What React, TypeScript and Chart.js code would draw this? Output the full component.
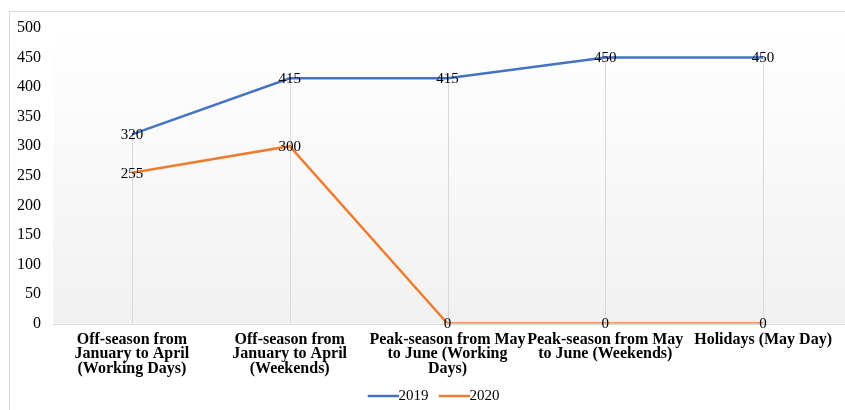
import React, { useEffect, useRef } from "react";
import { Chart, registerables } from "chart.js";

Chart.register(...registerables);

const categories: string[][] = [
  ["Off-season from", "January to April", "(Working Days)"],
  ["Off-season from", "January to April", "(Weekends)"],
  ["Peak-season from May", "to June (Working", "Days)"],
  ["Peak-season from May", "to June (Weekends)"],
  ["Holidays (May Day)"],
];
const series2019: number[] = [320, 415, 415, 450, 450];
const series2020: number[] = [255, 300, 0, 0, 0];
const yTicks: number[] = [0, 50, 100, 150, 200, 250, 300, 350, 400, 450, 500];

const SERIF = "'Liberation Serif', 'Times New Roman', serif";
const COLORS = ["#4472C4", "#ED7D31"];

const LEGEND_BOX = 31.5;
function legendImage(color: string): HTMLCanvasElement {
  const c = document.createElement("canvas");
  const w = Math.round(LEGEND_BOX + 15);
  c.width = w;
  c.height = 4;
  const g = c.getContext("2d")!;
  g.strokeStyle = color;
  g.lineWidth = 2.5;
  g.beginPath();
  g.moveTo(w - 31, 2);
  g.lineTo(w, 2);
  g.stroke();
  return c;
}

const bgPlugin = {
  id: "bgGradient",
  beforeDraw(chart: any) {
    const { ctx, chartArea } = chart;
    if (!chartArea) return;
    const g = ctx.createLinearGradient(0, chartArea.top, 0, chartArea.bottom);
    g.addColorStop(0, "#ffffff");
    g.addColorStop(1, "#f1f1f1");
    ctx.save();
    ctx.fillStyle = g;
    ctx.fillRect(chartArea.left, chartArea.top - 12, chartArea.right - chartArea.left + 3, chartArea.bottom - chartArea.top + 12);
    ctx.restore();
  },
};

const dropLinePlugin = {
  id: "dropLines",
  beforeDatasetsDraw(chart: any) {
    const { ctx, chartArea, scales } = chart;
    const x = scales.x;
    const y = scales.y;
    ctx.save();
    ctx.strokeStyle = "#d9d9d9";
    ctx.lineWidth = 1;
    ctx.beginPath();
    ctx.moveTo(chartArea.left, Math.round(chartArea.bottom) + 0.5);
    ctx.lineTo(chartArea.right + 3, Math.round(chartArea.bottom) + 0.5);
    ctx.stroke();
    categories.forEach((_, i) => {
      const top = Math.max(series2019[i], series2020[i]);
      const px = Math.round(x.getPixelForValue(i)) + 0.5;
      ctx.beginPath();
      ctx.moveTo(px, y.getPixelForValue(top));
      ctx.lineTo(px, chartArea.bottom);
      ctx.stroke();
    });
    ctx.restore();
  },
};

const labelPlugin = {
  id: "pointLabels",
  afterDatasetsDraw(chart: any) {
    const { ctx } = chart;
    ctx.save();
    ctx.font = `15px ${SERIF}`;
    ctx.fillStyle = "#000000";
    ctx.textAlign = "center";
    ctx.textBaseline = "middle";
    chart.data.datasets.forEach((ds: any, di: number) => {
      const meta = chart.getDatasetMeta(di);
      meta.data.forEach((pt: any, i: number) => {
        ctx.fillText(String(ds.data[i]), pt.x, pt.y + 1);
      });
    });
    ctx.restore();
  },
};

export default function App() {
  const ref = useRef<HTMLCanvasElement>(null);
  useEffect(() => {
    if (!ref.current) return;
    const imgs = COLORS.map(legendImage);
    const chart = new Chart(ref.current, {
      type: "line",
      data: {
        labels: categories,
        datasets: [
          {
            label: "2019",
            data: series2019,
            borderColor: COLORS[0],
            backgroundColor: COLORS[0],
            borderWidth: 2.5,
            pointRadius: 0,
            tension: 0,
          },
          {
            label: "2020",
            data: series2020,
            borderColor: COLORS[1],
            backgroundColor: COLORS[1],
            borderWidth: 2.5,
            pointRadius: 0,
            tension: 0,
          },
        ],
      },
      options: {
        responsive: false,
        animation: false,
        layout: { padding: { left: 7, right: 3, top: 16, bottom: -3.5 } },
        plugins: {
          legend: {
            position: "bottom",
            labels: {
              usePointStyle: true,
              pointStyleWidth: LEGEND_BOX,
              boxHeight: 15,
              color: "#000",
              font: { family: SERIF, size: 15 },
              padding: 2,
              generateLabels: (chart: any) => {
                const items = (Chart as any).defaults.plugins.legend.labels.generateLabels(chart);
                items.forEach((it: any, i: number) => {
                  it.pointStyle = imgs[i];
                });
                return items;
              },
            },
          },
          tooltip: { enabled: false },
        },
        scales: {
          x: {
            offset: true,
            afterFit: (scale: any) => {
              scale.height = 63;
              scale.paddingLeft = 0;
              scale.paddingRight = 0;
            },
            grid: { display: false, drawTicks: false },
            border: { display: false },
            ticks: {
              autoSkip: false,
              maxRotation: 0,
              minRotation: 0,
              padding: 9,
              color: "#000",
              font: { family: SERIF, size: 16, weight: "bold", lineHeight: 0.9 },
            },
          },
          y: {
            min: 0,
            max: 500,
            afterBuildTicks: (scale: any) => {
              scale.ticks = yTicks.map((v) => ({ value: v }));
            },
            afterFit: (scale: any) => {
              scale.width = 36;
              scale.paddingTop = 0;
              scale.paddingBottom = 0;
            },
            grid: { display: false, drawTicks: false },
            border: { display: false },
            ticks: {
              padding: 12,
              color: "#000",
              font: { family: SERIF, size: 16 },
            },
          },
        },
      },
      plugins: [bgPlugin, dropLinePlugin, labelPlugin],
    });
    return () => chart.destroy();
  }, []);
  return (
    <div
      style={{
        position: "fixed",
        left: 9,
        top: 11,
        width: 835,
        height: 398,
        borderLeft: "1px solid #d9d9d9",
        borderTop: "1px solid #d9d9d9",
      }}
    >
      <canvas ref={ref} width={835} height={398} style={{ display: "block" }} />
    </div>
  );
}
